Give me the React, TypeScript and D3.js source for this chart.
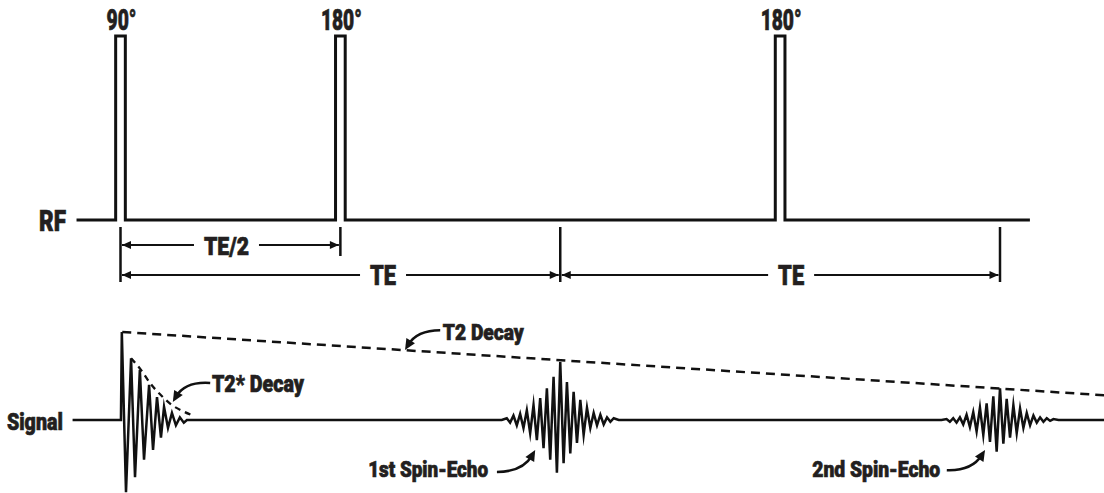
import React from "react";
import * as d3 from "d3";

const W = 1104;
const H = 493;

// ---- RF pulse sequence (time units: TE = 100) ----
const pulseTimes = [0, 50, 150];
const pulseLabels = ["90°", "180°", "180°"];
const pulseAmplitude = 1;
const pulseWidth = 2.2;
const rfSpan = [-10, 206.8];

// ---- timing markers / intervals ----
const markerTimes = [0, 50, 100, 200];
const markerRows = [1, 0, 1, 1];
const intervalStarts = [0, 0, 100];
const intervalEnds = [50, 100, 200];
const intervalLabels = ["TE/2", "TE", "TE"];
const intervalRows = [0, 1, 1];

// ---- signal (amplitude in % of initial magnetisation) ----
const fidTimes = [0.1, 0.3, 1.25, 2.4, 3.3, 4.4, 5.35, 6.5, 7.4, 8.3, 9.2, 9.9, 10.8, 11.7, 12.6, 13.5, 14.4, 15.1];
const fidValues = [0, 100, -82, 70, -65, 57, -45, 40, -34, 26, -20, 15, -9, 8, -6, 3, -3, 0];
const t2StarTimes = [2.4, 4.66, 6.71, 9.44, 11.7, 14.2, 16.5];
const t2StarValues = [70, 57, 42, 27, 17, 10, 5];
const t2Times = [0.4, 224];
const t2Values = [100, 28];
const echoCenters = [100, 200];
const echoStep = 0.76;
const echo1Amps = [2, 3, 5, 6, 7, 9, 11, 15, 17, 23, 25, 32, 36, 45, 49, 60, 66, 49, 43, 38, 32, 26, 23, 17, 14, 9, 8, 6, 6, 5, 3, 2, 2];
const echo2Amps = [1, 2, 2, 3, 3, 5, 6, 8, 9, 13, 14, 17, 19, 25, 27, 36, 36, 27, 24, 20, 17, 15, 13, 9, 8, 6, 5, 3, 3, 2, 2, 1, 1];
const signalSpan = [-10.9, 224];

// ---- layout ----
const FONT = "Roboto, 'Liberation Sans', 'DejaVu Sans', sans-serif";
const WEIGHT = 900;
const INK = "#111";
const TXT = "#231f20";
const TXT_STROKE = 0.7;

const x = d3.scaleLinear().domain([0, 200]).range([120.5, 1000]);
const yRF = d3.scaleLinear().domain([0, 1]).range([220, 36]);
const ySig = d3.scaleLinear().domain([-100, 100]).range([508, 332]);
const rowY = [245, 275];
const markerTop = 227;
const markerBottom = [256, 282];

const intervalLabelCenters = [24.1, 59.7, 152.5];
const intervalLabelWidths = [45, 26, 26];
const intervalLabelSizes = [26.5, 27.5, 27.5];

function arrowHead(tipX: number, tipY: number, fromX: number, fromY: number, len = 10, half = 4.5) {
  const a = Math.atan2(tipY - fromY, tipX - fromX);
  const bx = tipX - len * Math.cos(a);
  const by = tipY - len * Math.sin(a);
  const px = -Math.sin(a) * half;
  const py = Math.cos(a) * half;
  return `M${tipX},${tipY}L${bx + px},${by + py}L${bx - px},${by - py}Z`;
}

// curved annotation arrows: [start, control, tip] in (time, amplitude)
const annotationArrows = [
  [[72.7, 102], [67.4, 102], [64.7, 79.5]],
  [[20.4, 42], [14.7, 44], [11.9, 20.5]],
  [[85.6, -59], [91.5, -59], [94.3, -34]],
  [[187.9, -57], [193.6, -58], [196.6, -34]],
];

type Lbl = { text: string; t: number; a: number; size: number; width: number; anchor: string };
const signalLabels: Lbl[] = [
  { text: "Signal", t: -13.1, a: -11.4, size: 24.5, width: 56, anchor: "end" },
  { text: "T2 Decay", t: 73.3, a: 91, size: 22.5, width: 81, anchor: "start" },
  { text: "T2* Decay", t: 20.8, a: 31.8, size: 23, width: 92, anchor: "start" },
  { text: "1st Spin-Echo", t: 83.6, a: -64.8, size: 22.5, width: 120, anchor: "end" },
  { text: "2nd Spin-Echo", t: 186.4, a: -64.8, size: 22.5, width: 128, anchor: "end" },
];

const textProps = {
  fontFamily: FONT,
  fontWeight: WEIGHT,
  fill: TXT,
  stroke: TXT,
  strokeWidth: TXT_STROKE,
  lengthAdjust: "spacingAndGlyphs",
};

export default function App() {
  const rfPts: [number, number][] = [[rfSpan[0], 0]];
  pulseTimes.forEach((t) => {
    rfPts.push([t - pulseWidth / 2, 0], [t - pulseWidth / 2, pulseAmplitude], [t + pulseWidth / 2, pulseAmplitude], [t + pulseWidth / 2, 0]);
  });
  rfPts.push([rfSpan[1], 0]);
  const rfLine = d3.line<[number, number]>().x((d) => x(d[0])).y((d) => yRF(d[1]));

  const sigPts: [number, number][] = [[signalSpan[0], 0]];
  fidTimes.forEach((t, i) => sigPts.push([t, fidValues[i]]));
  [echo1Amps, echo2Amps].forEach((amps, e) => {
    const c = echoCenters[e];
    const half = (amps.length - 1) / 2;
    sigPts.push([c - (half + 1.5) * echoStep, 0]);
    amps.forEach((amp, i) => {
      const k = i - half;
      sigPts.push([c + k * echoStep, (Math.abs(k) % 2 === 0 ? 1 : -1) * amp]);
    });
    sigPts.push([c + (half + 1.5) * echoStep, 0]);
  });
  sigPts.push([signalSpan[1], 0]);
  const sigLine = d3.line<[number, number]>().x((d) => x(d[0])).y((d) => ySig(d[1]));

  const t2Pts: [number, number][] = t2Times.map((t, i) => [t, t2Values[i]]);
  const t2sPts: [number, number][] = t2StarTimes.map((t, i) => [t, t2StarValues[i]]);
  const t2sLine = d3.line<[number, number]>().x((d) => x(d[0])).y((d) => ySig(d[1])).curve(d3.curveMonotoneX);

  return (
    <svg width={W} height={H} viewBox={`0 0 ${W} ${H}`} style={{ position: "absolute", left: 0, top: 0, display: "block", background: "#fff" }}>
      <path d={rfLine(rfPts) || ""} fill="none" stroke={INK} strokeWidth={3} strokeLinejoin="miter" />
      <text x={66} y={231} textAnchor="end" fontSize={29} textLength={27} {...textProps}>RF</text>
      {pulseTimes.map((t, i) => (
        <text key={"pl" + i} x={x(t) + 1} y={30} textAnchor="middle" fontSize={29}
          textLength={pulseLabels[i].length > 3 ? 41 : 30} {...textProps}>{pulseLabels[i]}</text>
      ))}

      {markerTimes.map((t, i) => (
        <line key={"m" + i} x1={x(t)} x2={x(t)} y1={markerTop} y2={markerBottom[markerRows[i]]} stroke={INK} strokeWidth={2.5} />
      ))}
      {intervalStarts.map((s, i) => {
        const y = rowY[intervalRows[i]];
        const x0 = x(s) + 1.5;
        const x1 = x(intervalEnds[i]) - 1.5;
        const cx = x(intervalLabelCenters[i]);
        const w = intervalLabelWidths[i];
        const gap = 10;
        return (
          <g key={"iv" + i}>
            <line x1={x0} x2={cx - w / 2 - gap} y1={y} y2={y} stroke={INK} strokeWidth={2.2} />
            <line x1={cx + w / 2 + gap} x2={x1} y1={y} y2={y} stroke={INK} strokeWidth={2.2} />
            <path d={arrowHead(x0, y, x0 + 10, y, 9, 4)} fill={INK} />
            <path d={arrowHead(x1, y, x1 - 10, y, 9, 4)} fill={INK} />
            <text x={cx} y={y + 10} textAnchor="middle" fontSize={intervalLabelSizes[i]}
              textLength={w} {...textProps}>{intervalLabels[i]}</text>
          </g>
        );
      })}

      <path d={sigLine(t2Pts) || ""} fill="none" stroke={INK} strokeWidth={2.5} strokeDasharray="9 6" />
      <path d={t2sLine(t2sPts) || ""} fill="none" stroke={INK} strokeWidth={2.3} strokeDasharray="6 5" />

      <path d={sigLine(sigPts) || ""} fill="none" stroke={INK} strokeWidth={2.5} strokeLinejoin="miter" strokeMiterlimit={10} />

      {annotationArrows.map((a, i) => {
        const [s, c, e] = a.map((p) => [x(p[0]), ySig(p[1])]);
        const a2 = Math.atan2(e[1] - c[1], e[0] - c[0]);
        const endX = e[0] - 6 * Math.cos(a2);
        const endY = e[1] - 6 * Math.sin(a2);
        return (
          <g key={"aa" + i}>
            <path d={`M${s[0]},${s[1]}Q${c[0]},${c[1]} ${endX},${endY}`} fill="none" stroke={INK} strokeWidth={2.5} />
            <path d={arrowHead(e[0], e[1], c[0], c[1], 11, 5)} fill={INK} />
          </g>
        );
      })}

      {signalLabels.map((l, i) => (
        <text key={"sl" + i} x={x(l.t)} y={ySig(l.a)} textAnchor={l.anchor} fontSize={l.size}
          textLength={l.width} {...textProps}>{l.text}</text>
      ))}
    </svg>
  );
}
